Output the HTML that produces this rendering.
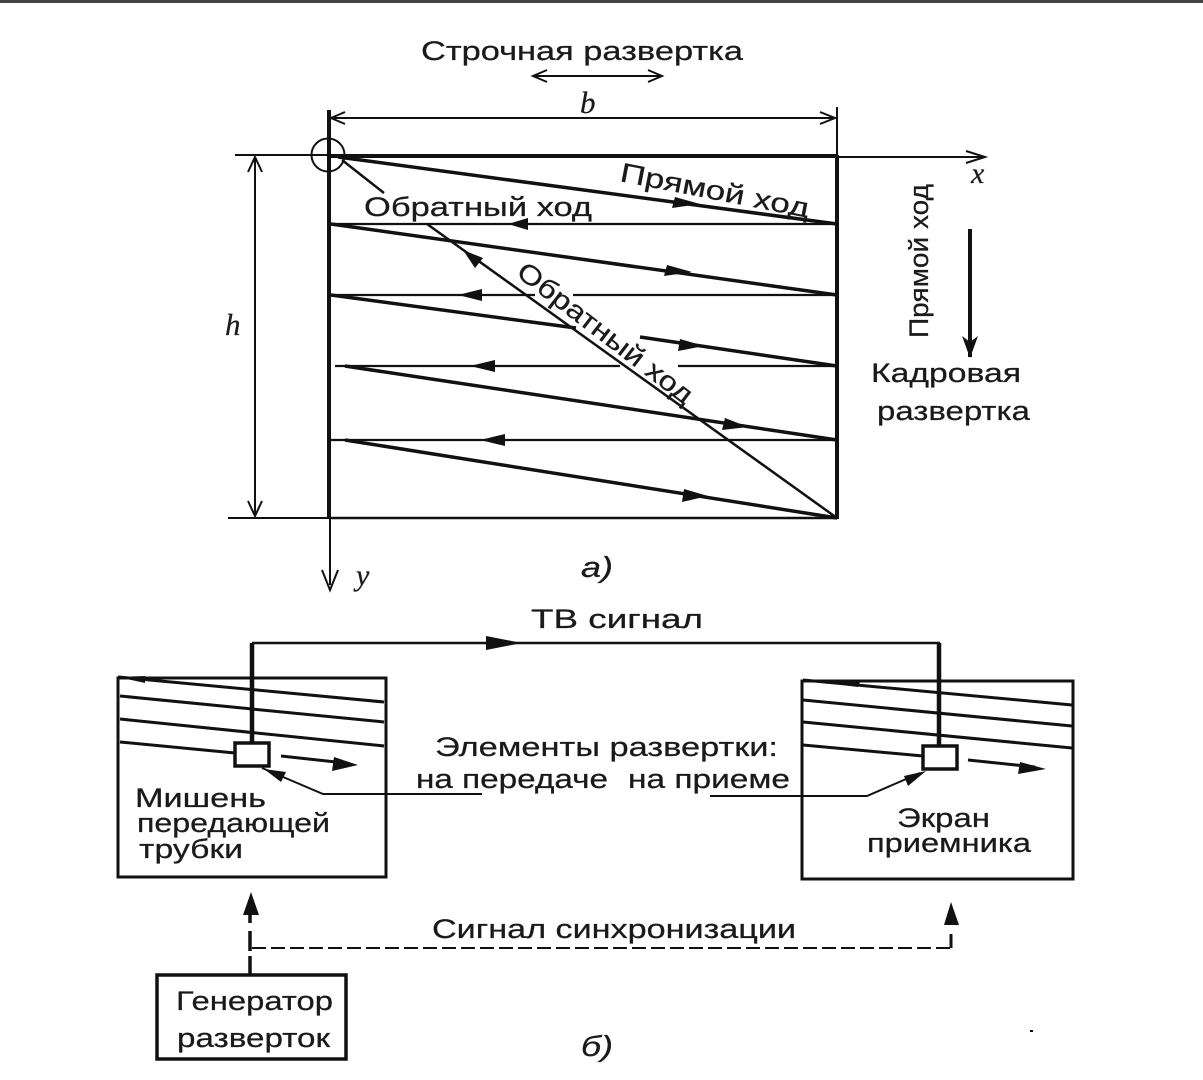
<!DOCTYPE html>
<html><head><meta charset="utf-8"><style>
html,body{margin:0;padding:0;background:#fff}
svg{display:block}
text{font-family:"Liberation Sans",sans-serif;font-size:27px;fill:#1a1a1a;stroke:#1a1a1a;stroke-width:.25}
.i{font-family:"Liberation Serif",serif;font-style:italic}
.o{font-style:italic}
</style></head><body>
<svg width="1203" height="1080" viewBox="0 0 1203 1080" xmlns="http://www.w3.org/2000/svg">
<rect width="1203" height="1080" fill="#fff"/>
<rect x="0" y="0" width="1203" height="3" fill="#444"/>
<g stroke="#111" fill="none" stroke-width="2">
<!-- frame -->
<path d="M329 110V518" stroke-width="4"/>
<path d="M330 518V585" stroke-width="2"/>
<path d="M837 107V155" stroke-width="2"/>
<path d="M837 155V519" stroke-width="4"/>
<path d="M235 155H329M837 157H985"/>
<path d="M329 156H837" stroke-width="4"/>
<path d="M228 518H329"/>
<path d="M329 518H837" stroke-width="2.5"/>
<circle cx="328" cy="155" r="16.5" stroke-width="2"/>
<!-- dims -->
<path d="M331 118H835M345 112L331 118L345 124M820 112L835 118L820 124"/>
<path d="M255 157V516M248 172L255 157L262 172M248 501L255 516L262 501"/>
<path d="M533 76H662M547 70L533 76L547 82M648 70L662 76L648 82"/>
<path d="M966 151L985 157L966 163"/>
<path d="M322 570L330 590L338 570"/>
<!-- scan horizontal retrace -->
<path d="M331 224H837M331 295H535M573 295H837M335 366H620M678 366H837M331 440H837" stroke-width="2.2"/>
<!-- forward -->
<g stroke-width="3.5">
<path d="M338 157L837 224"/>
<path d="M331 224L837 295"/>
<path d="M331 295L576 328"/>
<path d="M640 337L837 366"/>
<path d="M345 366L837 440"/>
<path d="M345 440L837 518"/>
</g>
<!-- diagonal -->
<path d="M427 224L837 518" stroke-width="2.5"/>
<path d="M342 160L384 193" stroke-width="2.5"/>
<!-- vertical arrow -->
<path d="M970 229V357" stroke-width="4"/>
<!-- bottom -->
<path d="M252 643H940" stroke-width="2.5"/>
<path d="M252 643V743M939 643V745" stroke-width="4.5"/>
<rect x="118" y="678" width="268" height="199" stroke-width="3"/>
<rect x="802" y="681" width="271" height="198" stroke-width="3"/>
<rect x="235" y="743" width="34" height="23" stroke-width="3.5"/>
<rect x="923" y="746" width="34" height="23" stroke-width="3.5"/>
<g stroke-width="3">
<path d="M118 677L384 702M120 696L384 722M120 719L384 746M120 742L235 753"/>
<path d="M803 680L1072 705M803 700L1072 726M803 722L1072 748M803 745L923 756"/>
<path d="M281 756L345 763"/>
<path d="M968 760L1035 767"/>
</g>
<path d="M262 768L323 794H482" stroke-width="2"/>
<path d="M710 796H867L920 773" stroke-width="2"/>
<!-- generator -->
<rect x="157" y="975" width="189" height="84" stroke-width="3.5"/>
<path d="M250 910V923M250 931V951M250 956V975" stroke-width="3.5"/>
<path d="M252 948H951" stroke-width="2" stroke-dasharray="14 5"/>
<path d="M951 948V934" stroke-width="3"/>
</g>
<!-- filled arrowheads -->
<g fill="#111">
<path d="M700 204L672 208L675 197Z"/>
<path d="M692 272L664 276L667 265Z"/>
<path d="M704 346L678 351L680 339Z"/>
<path d="M748 427L722 430L725 418Z"/>
<path d="M708 496L682 502L684 489Z"/>
<path d="M508 224L528 218V230Z"/>
<path d="M458 295L482 289V301Z"/>
<path d="M470 366L495 360V372Z"/>
<path d="M480 440L505 434V446Z"/>
<path d="M463 250L483 258L475 268Z"/>
<path d="M970 358L962 336L970 342L978 336Z"/>
<path d="M522 643L486 636V650Z"/>
<path d="M358 765L332 771L334 757Z"/>
<path d="M1046 769L1018 774L1020 762Z"/>
<path d="M264 769L286 772L281 782Z"/>
<path d="M926 771L904 776L908 786Z"/>
<path d="M251 892L243 915H259Z"/>
<path d="M951 902L944 925H959Z"/>
<path d="M118 677L145 676L145 683Z"/>
<path d="M803 680L860 682L858 687Z"/>
<rect x="1030" y="1030" width="3" height="2"/>
</g>
<!-- labels -->
<text x="421" y="60" textLength="322" lengthAdjust="spacingAndGlyphs">Строчная развертка</text>
<text class="i" x="580" y="113" style="font-size:31px">b</text>
<text class="i" x="971" y="183" style="font-size:30px">x</text>
<text class="i" x="225" y="335" style="font-size:31px">h</text>
<text class="i" x="356" y="585" style="font-size:30px">y</text>
<text class="o" x="581" y="577" style="font-size:29px" textLength="32" lengthAdjust="spacingAndGlyphs">а)</text>
<text class="o" x="581" y="1056" style="font-size:29px" textLength="32" lengthAdjust="spacingAndGlyphs">б)</text>
<text x="364" y="216" textLength="228" lengthAdjust="spacingAndGlyphs">Обратный ход</text>
<text transform="translate(619 181) rotate(11)" textLength="192" lengthAdjust="spacingAndGlyphs">Прямой ход</text>
<text transform="translate(515 275) rotate(37.5)" textLength="214" lengthAdjust="spacingAndGlyphs">Обратный ход</text>
<text transform="translate(928 338) rotate(-90)" textLength="154" lengthAdjust="spacingAndGlyphs">Прямой ход</text>
<text x="871" y="382" textLength="150" lengthAdjust="spacingAndGlyphs">Кадровая</text>
<text x="877" y="420" textLength="153" lengthAdjust="spacingAndGlyphs">развертка</text>
<text x="531" y="628" textLength="172" lengthAdjust="spacingAndGlyphs">ТВ сигнал</text>
<text x="435" y="756" textLength="343" lengthAdjust="spacingAndGlyphs">Элементы развертки:</text>
<text x="416" y="788" textLength="192" lengthAdjust="spacingAndGlyphs">на передаче</text>
<text x="628" y="788" textLength="162" lengthAdjust="spacingAndGlyphs">на приеме</text>
<text x="135" y="807" textLength="131" lengthAdjust="spacingAndGlyphs">Мишень</text>
<text x="137" y="832" textLength="193" lengthAdjust="spacingAndGlyphs">передающей</text>
<text x="139" y="858" textLength="104" lengthAdjust="spacingAndGlyphs">трубки</text>
<text x="897" y="827" textLength="93" lengthAdjust="spacingAndGlyphs">Экран</text>
<text x="867" y="852" textLength="164" lengthAdjust="spacingAndGlyphs">приемника</text>
<text x="432" y="938" textLength="364" lengthAdjust="spacingAndGlyphs">Сигнал синхронизации</text>
<text x="176" y="1010" textLength="157" lengthAdjust="spacingAndGlyphs">Генератор</text>
<text x="177" y="1047" textLength="153" lengthAdjust="spacingAndGlyphs">разверток</text>
</svg>
</body></html>
